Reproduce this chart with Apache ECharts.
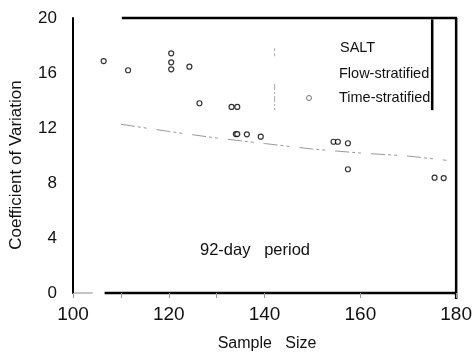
<!DOCTYPE html>
<html><head><meta charset="utf-8">
<script src="https://cdn.jsdelivr.net/npm/echarts@6/dist/echarts.min.js"></script>
<style>html,body{margin:0;padding:0;background:#fff}#c{width:475px;height:354px}</style>
</head><body><div id="c"></div>
<script>
const flowX = [110, 120, 130, 140, 150, 160, 170, 178];
const flowY = [12.27, 11.75, 11.27, 10.87, 10.47, 10.18, 9.96, 9.65];
const timeX = [106.4, 111.5, 120.5, 120.5, 120.5, 124.3, 126.4, 133.1, 134.3, 134.0, 134.3, 136.3, 139.2, 154.4, 155.3, 157.4, 157.4, 175.5, 177.4];
const timeY = [16.87, 16.2, 17.43, 16.78, 16.27, 16.46, 13.8, 13.53, 13.53, 11.56, 11.56, 11.54, 11.37, 11.0, 11.0, 10.89, 9.0, 8.39, 8.36];
const xTickLabels = [100, 120, 140, 160, 180];
const xTicks = [100, 110, 120, 130, 140, 160, 180];
const yTickLabels = [0, 4, 8, 12, 16, 20];
const seriesNames = ['Flow-stratified', 'Time-stratified'];

const FONT = 'Liberation Sans';
const chart = echarts.init(document.getElementById('c'), null, {renderer: 'canvas'});
const option = {
  animation: false,
  backgroundColor: '#fff',
  textStyle: {fontFamily: FONT},
  grid: {left: 73, right: 16, top: 18, bottom: 61},
  title: {
    text: 'SALT', left: 335, top: 35,
    textStyle: {fontFamily: FONT, fontSize: 14.5, fontWeight: 'normal', color: '#111'}
  },
  legend: {
    orient: 'vertical', left: 279, top: 61, itemGap: 9.5,
    itemWidth: 50, itemHeight: 5,
    textStyle: {fontFamily: FONT, fontSize: 14.5, color: '#111'},
    data: [{name: seriesNames[0], icon: 'none'}, {name: seriesNames[1], itemStyle: {color: '#fff', borderColor: '#555', borderWidth: 1}}]
  },
  xAxis: {
    type: 'value', min: 100, max: 180, interval: 20,
    axisLine: {show: false},
    axisTick: {show: true, length: 5, lineStyle: {color: '#999', width: 1}, customValues: xTicks},
    splitLine: {show: false},
    axisLabel: {customValues: xTickLabels, fontFamily: FONT, fontSize: 19, color: '#111', margin: 12}
  },
  yAxis: {
    type: 'value', min: 0, max: 20, interval: 4,
    axisLine: {show: true, lineStyle: {color: '#000', width: 2}},
    axisTick: {show: false},
    splitLine: {show: false},
    axisLabel: {customValues: yTickLabels, fontFamily: FONT, fontSize: 17, color: '#111', margin: 16, verticalAlign: 'middle', padding: [0, 0, 6, 0]}
  },
  series: [
    {
      name: seriesNames[0], type: 'line', showSymbol: false, symbol: 'none',
      data: flowX.map((x, i) => [x, flowY[i]]),
      lineStyle: {color: '#999', width: 1, type: [14, 3, 3, 3, 3, 10]},
      itemStyle: {color: '#999'}
    },
    {
      name: seriesNames[1], type: 'scatter', symbol: 'circle', symbolSize: 5,
      data: timeX.map((x, i) => [x, timeY[i]]),
      itemStyle: {color: '#fff', borderColor: '#000', borderWidth: 1.2}
    }
  ]
};
chart.setOption(option);

function P(x, y) { return chart.convertToPixel({gridIndex: 0}, [x, y]); }
const o = P(100, 0), tr = P(180, 20);
const topStart = P(110.2, 20), legLineTop = P(175, 19.9), legLineBot = P(175, 13.3);
const gapA = P(104.1, 0), gapB = P(106.6, 0);
const dv1a = P(142.1, 17.8), dv1b = P(142.1, 17.1), dv2a = P(142.1, 15.2), dv2b = P(142.1, 13.3);
const thick = {stroke: '#000', lineWidth: 2.5};
chart.setOption({
  graphic: [
    {type: 'line', shape: {x1: topStart[0], y1: tr[1], x2: tr[0] + 1, y2: tr[1]}, style: thick, silent: true},
    {type: 'line', shape: {x1: tr[0], y1: tr[1], x2: tr[0], y2: o[1] + 6}, style: thick, silent: true},
    {type: 'line', shape: {x1: gapB[0], y1: o[1], x2: tr[0], y2: o[1]}, style: thick, silent: true},
    {type: 'line', shape: {x1: o[0], y1: o[1], x2: gapA[0], y2: o[1]}, style: {stroke: '#888', lineWidth: 1}, silent: true},
    {type: 'line', shape: {x1: legLineTop[0], y1: legLineTop[1], x2: legLineBot[0], y2: legLineBot[1]}, style: thick, silent: true},
    {type: 'line', shape: {x1: dv1a[0], y1: dv1a[1], x2: dv1b[0], y2: dv1b[1]}, style: {stroke: '#aaa', lineWidth: 1, lineDash: [3, 2]}, silent: true},
    {type: 'line', shape: {x1: dv2a[0], y1: dv2a[1], x2: dv2b[0], y2: dv2b[1]}, style: {stroke: '#aaa', lineWidth: 1, lineDash: [6, 2, 2, 2]}, silent: true},
    {type: 'text', x: 16.5, y: 165, rotation: Math.PI / 2, style: {text: 'Coefficient of Variation', fontFamily: FONT, fontSize: 17, fill: '#111', textAlign: 'center', textVerticalAlign: 'middle'}, silent: true},
    {type: 'text', x: 267, y: 344, style: {text: 'Sample   Size', fontFamily: FONT, fontSize: 16, fill: '#111', textAlign: 'center', textVerticalAlign: 'middle'}, silent: true},
    {type: 'text', x: 255, y: 250, style: {text: '92-day   period', fontFamily: FONT, fontSize: 16.5, fill: '#111', textAlign: 'center', textVerticalAlign: 'middle'}, silent: true}
  ]
});
</script>
</body></html>
